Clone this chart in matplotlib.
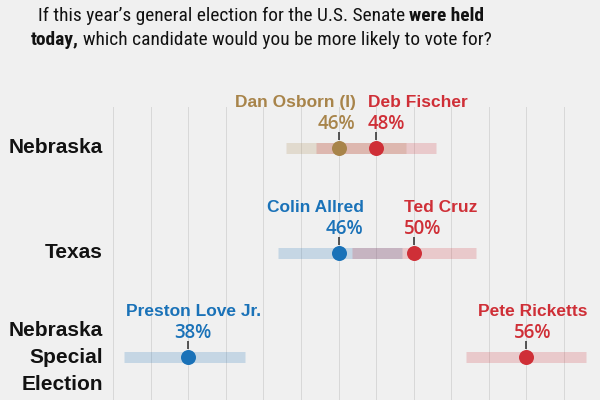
import matplotlib
matplotlib.use("Agg")
import matplotlib.pyplot as plt
import matplotlib.transforms as mtransforms
from matplotlib import font_manager as fm

# ---------------- data ----------------
states = ["Nebraska", "Texas", "Nebraska\nSpecial\nElection"]
cand_names = ["Dan Osborn (I)", "Deb Fischer", "Colin Allred", "Ted Cruz",
              "Preston Love Jr.", "Pete Ricketts"]
cand_row = [0, 0, 1, 1, 2, 2]
cand_pct = [46, 48, 46, 50, 38, 56]
cand_low = [43.2, 44.8, 42.8, 46.7, 34.6, 52.8]
cand_high = [49.6, 51.2, 49.4, 53.3, 41.0, 59.2]
cand_party = ["I", "R", "D", "R", "D", "R"]
grid_ticks = [34, 36, 38, 40, 42, 44, 46, 48, 50, 52, 54, 56, 58]

title_line1 = [("If this year’s general election for the U.S. Senate", "normal"),
               ("were held", "bold")]
title_line2 = [("today,", "bold"),
               ("which candidate would you be more likely to vote for?", "normal")]

# ---------------- style ----------------
party_color = {"D": "#1a72b8", "R": "#cf2f37", "I": "#a8844a"}
bg = "#f0f0f0"
label_ha = ["right", "left", "right", "left", "center", "center"]
label_dx = [17, -8, 25, -10, 5, 6]   # px offset of labels from the dot

# choose a condensed font for the title if one is installed
title_font = None
cands = []
for f in fm.fontManager.ttflist:
    nm = f.name.lower()
    fn = f.fname.lower()
    if "narrow" in nm or "condensed" in nm or "narrow" in fn or "condensed" in fn:
        cands.append(f)
pref = ["liberation", "roboto", "open", "noto", "dejavu"]
for p in pref:
    hits = [f for f in cands if p in f.fname.lower()]
    if hits:
        title_font = hits
        break

W, H = 600, 400
fig = plt.figure(figsize=(6, 4), dpi=100, facecolor=bg)
ax = fig.add_axes([0, 0, 1, 1])
ax.set_facecolor(bg)
ax.set_xlim(27.98, 59.92)
ax.set_ylim(2.406, -1.413)
ax.axis("off")

px = 0.72  # points per pixel at 100 dpi

for g in grid_ticks:
    ax.axvline(g, ymin=0, ymax=1 - 107 / H, color="#d8d8d8", lw=1 * px, zorder=0)

# bars
for i in range(len(cand_names)):
    c = party_color[cand_party[i]]
    ax.plot([cand_low[i], cand_high[i]], [cand_row[i], cand_row[i]],
            color=c, alpha=0.2, lw=11 * px, solid_capstyle="butt", zorder=1)

# ticks above dots
tick_trans = mtransforms.offset_copy(ax.transData, fig=fig, x=0, y=12, units="dots")
for i in range(len(cand_names)):
    ax.plot(cand_pct[i], cand_row[i], marker="|", ms=8 * px, mew=1.6 * px,
            color="#333333", transform=tick_trans, zorder=2)

# dots
for i in range(len(cand_names)):
    c = party_color[cand_party[i]]
    ax.plot(cand_pct[i], cand_row[i], "o", ms=15 * px, color=c, mew=0, zorder=3)

# labels
for i in range(len(cand_names)):
    c = party_color[cand_party[i]]
    ax.annotate(cand_names[i], (cand_pct[i], cand_row[i]),
                xytext=(label_dx[i] * px, 41 * px), textcoords="offset points",
                ha=label_ha[i], va="baseline", color=c, fontsize=12.5,
                fontweight="bold", family=["Liberation Sans", "DejaVu Sans"])
    ax.annotate(f"{cand_pct[i]}%", (cand_pct[i], cand_row[i]),
                xytext=(label_dx[i] * px, 19 * px), textcoords="offset points",
                ha=label_ha[i], va="baseline", color=c, fontsize=13.5,
                fontweight="semibold", family=["Open Sans", "DejaVu Sans"])

# row labels
for r, s in enumerate(states):
    ax.text(103 / W, r, s, transform=ax.get_yaxis_transform(), ha="right",
            va="center", fontsize=15, fontweight="bold", color="#121212",
            family=["Liberation Sans", "DejaVu Sans"], linespacing=1.55)

# title (mixed weights)
renderer = fig.canvas.get_renderer()


def title_props(weight, size):
    if title_font is not None:
        fam = title_font[0].name
        return dict(family=[fam, "DejaVu Sans"], fontweight=weight,
                    fontstretch="condensed", fontsize=size)
    return dict(family=["Liberation Sans", "DejaVu Sans"], fontweight=weight, fontsize=size)


def measure(segments, size):
    ws = []
    for s, w in segments:
        t = fig.text(0, 0, s, **title_props(w, size))
        ws.append(t.get_window_extent(renderer).width)
        t.remove()
    p1 = fig.text(0, 0, "a a", **title_props("normal", size))
    p2 = fig.text(0, 0, "aa", **title_props("normal", size))
    sp = p1.get_window_extent(renderer).width - p2.get_window_extent(renderer).width
    p1.remove()
    p2.remove()
    return ws, sp


# fit the first line to its width in the reference (~448 px)
base = 14.0
ws, sp = measure(title_line1, base)
tsize = base * 448 / (sum(ws) + sp)
tsize = min(tsize, 14.5)


def rich_line(segments, y_px, cx_px):
    ws, sp = measure(segments, tsize)
    total = sum(ws) + sp * (len(ws) - 1)
    x = cx_px - total / 2
    for (s, w), wd in zip(segments, ws):
        fig.text(x / W, 1 - y_px / H, s, color="#121212", va="baseline", ha="left",
                 **title_props(w, tsize))
        x += wd + sp


rich_line(title_line1, 21, 261)
rich_line(title_line2, 45, 261)

fig.savefig("out.png", dpi=100, facecolor=bg)
